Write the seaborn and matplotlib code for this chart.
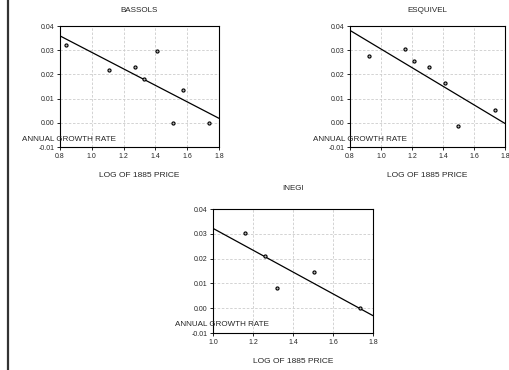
import matplotlib
matplotlib.use("Agg")
import matplotlib.pyplot as plt
import seaborn as sns
import pandas as pd
from matplotlib.lines import Line2D

# data
bassols_x = [0.838, 1.11, 1.274, 1.328, 1.408, 1.51, 1.572, 1.735]
bassols_y = [0.0323, 0.022, 0.023, 0.018, 0.0295, 0.0, 0.0135, 0.0]

esquivel_x = [0.922, 1.154, 1.215, 1.312, 1.411, 1.497, 1.735]
esquivel_y = [0.0277, 0.0307, 0.0255, 0.0229, 0.0166, -0.0015, 0.0051]

inegi_x = [1.161, 1.259, 1.320, 1.505, 1.733]
inegi_y = [0.0304, 0.0211, 0.008, 0.0145, 0.0]

titles = ["BASSOLS", "ESQUIVEL", "INEGI"]
xlims = [(0.8, 1.8), (0.8, 1.8), (1.0, 1.8)]
yticks = [-0.01, 0.0, 0.01, 0.02, 0.03, 0.04]

sns.set_style("white")
plt.rcParams['font.family'] = ['Liberation Sans', 'DejaVu Sans']

fig = plt.figure(figsize=(5.1, 3.7), dpi=100)
positions = [[0.1176, 0.6027, 0.3118, 0.327],
             [0.6863, 0.6027, 0.3040, 0.327],
             [0.4176, 0.100, 0.3137, 0.335]]
datasets = [(bassols_x, bassols_y), (esquivel_x, esquivel_y), (inegi_x, inegi_y)]

for pos, (xs, ys), title, xl in zip(positions, datasets, titles, xlims):
    ax = fig.add_axes(pos)
    df = pd.DataFrame({'x': xs, 'y': ys})
    ax.set_xlim(xl)
    ax.set_ylim(-0.01, 0.04)
    sns.regplot(x='x', y='y', data=df, ax=ax, ci=None, truncate=False,
                scatter_kws={'s': 5, 'facecolor': '#bbbbbb', 'edgecolor': 'black',
                             'linewidths': 0.8, 'alpha': 1, 'zorder': 3},
                line_kws={'color': 'black', 'lw': 0.9})
    ax.set_xlim(xl)
    ax.set_ylim(-0.01, 0.04)
    ax.set_yticks(yticks)
    ax.set_yticklabels([f"{t:.2f}" for t in yticks])
    step = 0.2
    xt = [round(xl[0] + i * step, 1) for i in range(int(round((xl[1] - xl[0]) / step)) + 1)]
    ax.set_xticks(xt)
    ax.set_xticklabels([f"{t:.1f}" for t in xt])
    ax.grid(True, ls=(0, (3, 2)), color='#cccccc', lw=0.6)
    ax.tick_params(labelsize=5, length=2.5, width=0.6, pad=1.5,
                   left=True, bottom=True, color='black')
    for s in ax.spines.values():
        s.set_color('black')
        s.set_linewidth(0.8)
    ax.set_title(title, fontsize=5.8, pad=10 if title != "INEGI" else 14)
    ax.set_xlabel("LOG OF 1885 PRICE", fontsize=6, labelpad=9)
    ax.set_ylabel("")
    ax.text(-0.24, 0.066, "ANNUAL GROWTH RATE", transform=ax.transAxes,
            fontsize=5.8, ha='left', va='center', zorder=5)

fig.add_artist(Line2D([8 / 510, 8 / 510], [0, 1], color='#333333', lw=1.6))

fig.savefig("out.png", dpi=100)
